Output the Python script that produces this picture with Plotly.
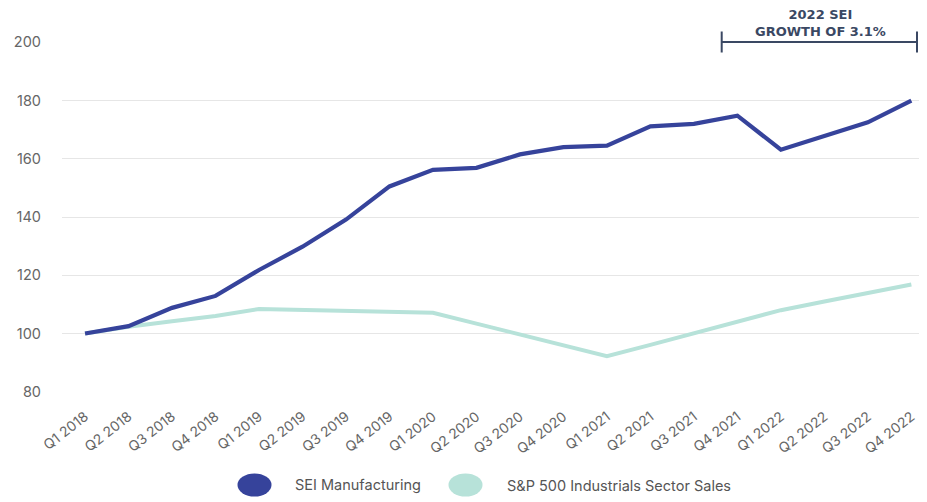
import plotly.graph_objects as go

quarters = ["Q1 2018", "Q2 2018", "Q3 2018", "Q4 2018",
            "Q1 2019", "Q2 2019", "Q3 2019", "Q4 2019",
            "Q1 2020", "Q2 2020", "Q3 2020", "Q4 2020",
            "Q1 2021", "Q2 2021", "Q3 2021", "Q4 2021",
            "Q1 2022", "Q2 2022", "Q3 2022", "Q4 2022"]

sei_manufacturing = [100.0, 102.5, 108.8, 112.9,
                     121.8, 129.8, 139.1, 150.5,
                     156.2, 156.9, 161.5, 164.0,
                     164.5, 171.1, 172.0, 174.8,
                     163.1, 167.7, 172.5, 180.0]

sp500_industrials = [100.0, 102.3, 104.2, 106.0,
                     108.4, 108.0, 107.6, 107.4,
                     107.1, 103.4, 99.6, 95.7,
                     92.2, 96.1, 100.0, 103.9,
                     108.0, 111.0, 114.0, 116.8]

y_ticks = [80, 100, 120, 140, 160, 180, 200]

series_names = ["SEI Manufacturing", "S&P 500 Industrials Sector Sales"]
series_colors = ["#36439b", "#b7e2d9"]

annot_text = "2022 SEI<br>GROWTH OF 3.1%"

fig = go.Figure()
fig.add_trace(go.Scatter(x=quarters, y=sp500_industrials, mode="lines",
                         name=series_names[1],
                         line=dict(color=series_colors[1], width=4),
                         showlegend=False))
fig.add_trace(go.Scatter(x=quarters, y=sei_manufacturing, mode="lines",
                         name=series_names[0],
                         line=dict(color=series_colors[0], width=4.2),
                         showlegend=False))

dark = "#3a4863"
PLOT_W, PLOT_H = 857, 350   # plot area size in pixels
PLOT_L, PLOT_B = 62, 392    # plot area left / bottom in screen pixels

shapes = []
# bracket over 2022
br_x = [(721.7 - PLOT_L) / PLOT_W, (917.0 - PLOT_L) / PLOT_W]
shapes.append(dict(type="line", xref="paper", yref="paper", x0=br_x[0], x1=br_x[1], y0=1, y1=1,
                   line=dict(color=dark, width=2)))
for xv in br_x:
    shapes.append(dict(type="line", xref="paper", yref="paper", x0=xv, x1=xv,
                       y0=1 + 10.5 / PLOT_H, y1=1 - 10.5 / PLOT_H,
                       line=dict(color=dark, width=2)))

# custom legend (large ellipses)
leg_x = [254.5, 465.5]
leg_y = 485
for i in range(2):
    shapes.append(dict(type="circle", xref="paper", yref="paper",
                       xsizemode="pixel", ysizemode="pixel",
                       xanchor=(leg_x[i] - PLOT_L) / PLOT_W, yanchor=-(leg_y - PLOT_B) / PLOT_H,
                       x0=-17, x1=17, y0=-11.5, y1=11.5,
                       fillcolor=series_colors[i], line=dict(width=0)))

annotations = [
    dict(xref="paper", yref="paper", x=(820.5 - PLOT_L) / PLOT_W, y=1 + 18.5 / PLOT_H,
         text="<b>%s</b>" % annot_text,
         showarrow=False, font=dict(family="DejaVu Sans", size=13, color=dark),
         xanchor="center", yanchor="middle", align="center"),
]
leg_text_x = [293, 505]
for i in range(2):
    annotations.append(dict(xref="paper", yref="paper",
                            x=(leg_text_x[i] - PLOT_L) / PLOT_W, y=-(leg_y - PLOT_B) / PLOT_H,
                            text=series_names[i], showarrow=False,
                            xanchor="left", yanchor="middle",
                            font=dict(family="Inter", size=14.5, color="#555555")))

# the page body adds an 8px offset; figure size and margins compensate for it
fig.update_layout(
    width=911, height=494,
    margin=dict(l=54, r=0, t=34, b=110),
    paper_bgcolor="white", plot_bgcolor="white",
    showlegend=False,
    shapes=shapes,
    annotations=annotations,
    font=dict(family="Inter", color="#666666"),
)
fig.update_xaxes(type="category", range=[-0.53, 19.176], showgrid=False, showline=False,
                 zeroline=False, tickangle=-38, ticks="", ticklabelstandoff=13,
                 automargin=False,
                 tickfont=dict(family="Inter", size=14, color="#666666"))
fig.update_yaxes(range=[79.9, 200.1], tickvals=y_ticks, showgrid=True, gridcolor="#e6e6e6",
                 gridwidth=1, zeroline=False, showline=False, ticks="", ticklabelstandoff=20,
                 automargin=False,
                 tickfont=dict(family="Inter", size=14.5, color="#666666"))

fig.write_html("out.html")
